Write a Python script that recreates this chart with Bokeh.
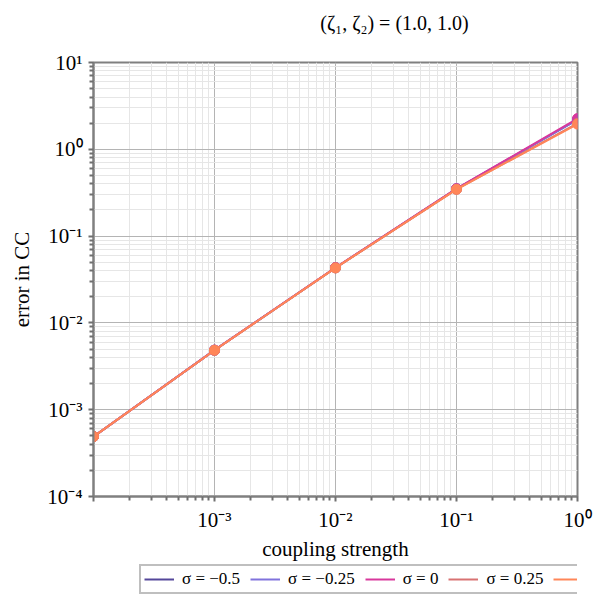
from bokeh.plotting import figure
from bokeh.models import (Legend, LegendItem, FixedTicker, CustomJSTickFormatter, Range1d, Label)
from bokeh.layouts import column
from bokeh.embed import file_html
from bokeh.resources import INLINE

# ---- data ----
coupling = [1e-4, 1e-3, 1e-2, 1e-1, 1.0]
sigmas = ["−0.5", "−0.25", "0", "0.25", "0.5"]
err_m050 = [4.9e-4, 4.85e-3, 0.0432, 0.350, 2.20]
err_m025 = [4.9e-4, 4.85e-3, 0.0432, 0.350, 2.20]
err_p000 = [4.9e-4, 4.86e-3, 0.0434, 0.352, 2.26]
err_p025 = [4.9e-4, 4.84e-3, 0.0430, 0.346, 1.99]
err_p050 = [4.9e-4, 4.84e-3, 0.0430, 0.346, 1.95]
series = [err_m050, err_m025, err_p000, err_p025, err_p050]
colors = ["#54479a", "#8073dc", "#d8389c", "#d87272", "#ff8658"]
title_text = "(ζ₁, ζ₂) = (1.0, 1.0)"

x_decades = [-4, -3, -2, -1, 0]
y_decades = [-4, -3, -2, -1, 0, 1]

SERIF = "Liberation Serif"

# title strip
t = figure(width=599, height=36, x_range=Range1d(0, 1), y_range=Range1d(0, 1),
           output_backend="svg", toolbar_location=None,
           x_axis_location=None, y_axis_location=None, min_border=0)
t.grid.visible = False
t.outline_line_color = None
t.add_layout(Label(x=301, y=14, x_units="screen", y_units="screen", text=title_text,
                   text_align="center", text_baseline="middle",
                   text_font=SERIF, text_font_size="20px", text_color="black"))

p = figure(frame_width=484, frame_height=434, x_axis_type="log", y_axis_type="log",
           x_range=Range1d(1e-4, 1.0), y_range=Range1d(1e-4, 10.0),
           output_backend="svg", toolbar_location=None,
           min_border_left=93, min_border_right=22, min_border_top=26,
           min_border_bottom=66,
           x_axis_label="coupling strength", y_axis_label="error in CC")

def ticks_for(decs):
    major = [10.0 ** d for d in decs]
    minor = []
    for d in decs[:-1]:
        for m in range(2, 10):
            minor.append(m * 10.0 ** d)
    return major, minor

xmaj, xmin = ticks_for(x_decades)
ymaj, ymin = ticks_for(y_decades)
p.xaxis.ticker = FixedTicker(ticks=xmaj, minor_ticks=xmin)
p.yaxis.ticker = FixedTicker(ticks=ymaj, minor_ticks=ymin)

fmt_code = """
const e = Math.round(Math.log10(tick));
if (HIDE.includes(e)) return '';
const sup = {'-':'⁻','0':'⁰','1':'¹','2':'²','3':'³','4':'⁴','5':'⁵','6':'⁶','7':'⁷','8':'⁸','9':'⁹'};
let s = String(e).split('').map(c => sup[c]).join('');
return '10' + s;
"""
p.xaxis.formatter = CustomJSTickFormatter(code=fmt_code.replace("HIDE", "[-4]"))
p.yaxis.formatter = CustomJSTickFormatter(code=fmt_code.replace("HIDE", "[]"))

for ax in (p.xaxis, p.yaxis):
    ax.axis_line_color = "#808080"
    ax.axis_line_width = 2
    ax.major_tick_line_color = "#707070"
    ax.major_tick_line_width = 2
    ax.minor_tick_line_color = "#707070"
    ax.minor_tick_line_width = 2
    ax.major_tick_out = 5
    ax.major_tick_in = 0
    ax.minor_tick_out = 4
    ax.minor_tick_in = 0
    ax.major_label_text_font = SERIF
    ax.major_label_text_font_size = "21px"
    ax.major_label_text_color = "black"
    ax.axis_label_text_font = SERIF
    ax.axis_label_text_font_size = "21px"
    ax.axis_label_text_font_style = "normal"
    ax.axis_label_text_color = "black"
p.xaxis.major_label_standoff = 6
p.yaxis.major_label_standoff = 6
p.xaxis.axis_label_standoff = 2
p.yaxis.axis_label_standoff = 10

p.outline_line_color = "#808080"
p.outline_line_width = 2

p.xgrid.grid_line_color = "#b4b4b4"
p.ygrid.grid_line_color = "#b4b4b4"
p.xgrid.minor_grid_line_color = "#e6e6e6"
p.ygrid.minor_grid_line_color = "#e6e6e6"

for ys, c in zip(series, colors):
    p.line(coupling, ys, line_color=c, line_width=2)
    p.scatter(coupling, ys, size=10, fill_color=c, line_color=c)

# legend strip below the plot (its sample lines lie outside its own view)
q = figure(width=599, height=36, x_range=Range1d(2, 3), y_range=Range1d(2, 3),
           output_backend="svg", toolbar_location=None,
           x_axis_location=None, y_axis_location=None, min_border=0)
q.grid.visible = False
q.outline_line_color = None

items = []
for s, ys, c in zip(sigmas, series, colors):
    r = q.line(coupling, ys, line_color=c, line_width=2)
    items.append(LegendItem(label="σ = " + s, renderers=[r]))

legend = Legend(items=items, orientation="horizontal", location=(46, 5))
legend.label_text_font = SERIF
legend.label_text_font_size = "17px"
legend.label_text_color = "black"
legend.label_height = 14
legend.glyph_height = 14
legend.border_line_color = "#808080"
legend.border_line_width = 2
legend.glyph_width = 30
legend.spacing = 10
legend.label_standoff = 8
legend.padding = 3
legend.margin = 0
q.add_layout(legend, "center")

layout = column(t, p, q, spacing=0)
open("out.html", "w").write(file_html(layout, INLINE))
